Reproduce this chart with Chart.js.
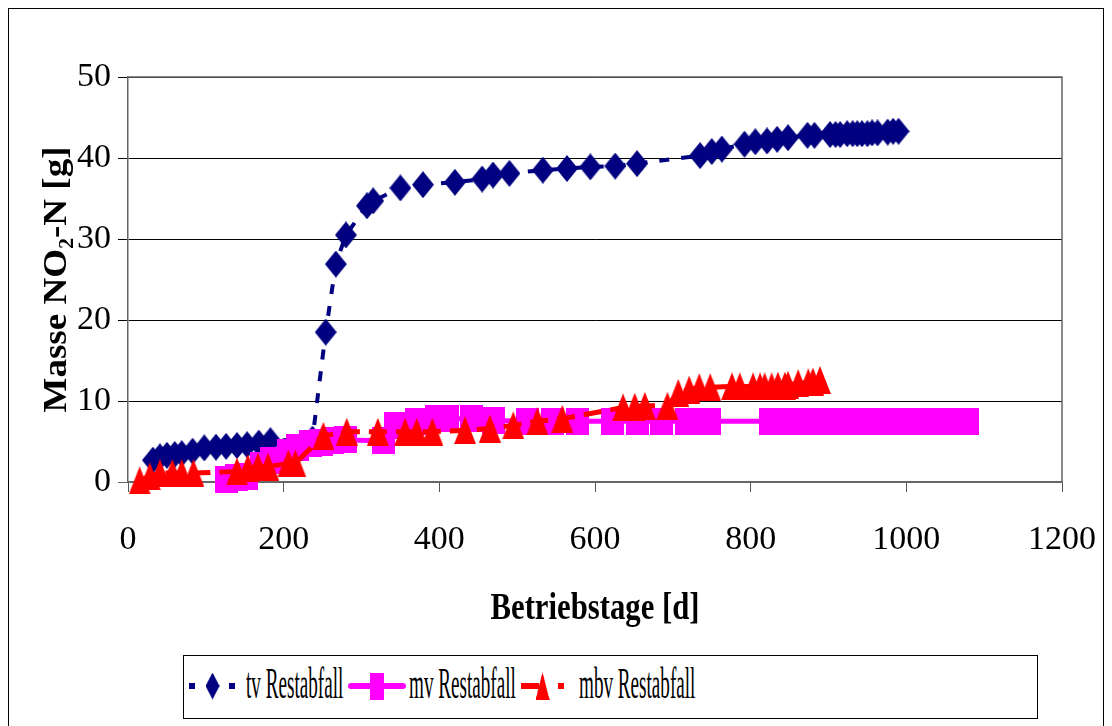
<!DOCTYPE html>
<html lang="de">
<head>
<meta charset="utf-8">
<title>Masse NO2-N</title>
<script src="https://cdn.jsdelivr.net/npm/chart.js@4.4.1/dist/chart.umd.min.js"></script>
<style>
  html, body { margin: 0; padding: 0; background: #fff; }
  body { width: 1112px; height: 726px; overflow: hidden; position: relative; font-family: 'Liberation Serif', 'Times New Roman', serif; }
  #rahmen { position: absolute; left: 8px; top: 8px; width: 1096px; height: 740px; border: 1px solid #000; box-sizing: border-box; }
  #chart { position: absolute; left: 0; top: 0; }
  #legende { position: absolute; left: 183px; top: 655px; width: 855px; height: 64px; border: 1px solid #000; box-sizing: border-box; background: #fff; }
  #legende .muster { position: absolute; top: 15px; }
  #legende .text { position: absolute; top: 6px; font-size: 44px; line-height: 44px; white-space: nowrap; color: #000; transform: scaleX(0.435); transform-origin: left top; }
</style>
</head>
<body>
<div id="rahmen"></div>
<canvas id="chart" width="1112" height="726"></canvas>
<div id="legende"></div>
<script>
/* Messwerte: kumulierte Masse NO2-N [g] über Betriebstage [d] */
const tvTage   = [32, 41, 50, 60, 69, 83, 98, 113, 126, 140, 153, 168, 183, 237, 254, 267, 280, 307, 315,
                  350, 379, 420, 455, 469, 490, 533, 564, 594, 626, 654, 735, 750, 763, 792, 806, 821, 834,
                  848, 873, 882, 902, 909, 915, 924, 931, 937, 943, 950, 956, 963, 976, 983, 990];
const tvMasse  = [2.7, 3.1, 3.3, 3.4, 3.5, 3.8, 4.2, 4.3, 4.4, 4.5, 4.6, 4.8, 5.1, 5.3, 18.5, 26.9, 30.5, 34.1, 34.7,
                  36.3, 36.7, 37.0, 37.4, 37.9, 38.1, 38.5, 38.7, 38.9, 39.0, 39.3, 40.3, 40.8, 41.1, 41.7, 42.0, 42.1, 42.3,
                  42.5, 42.8, 42.8, 42.9, 42.9, 42.9, 43.0, 43.0, 43.0, 43.0, 43.0, 43.1, 43.1, 43.2, 43.3, 43.3];

const mvTage   = [126, 139, 152, 172, 185, 206, 218, 234, 249, 263, 279, 328, 344, 371, 397, 410, 441, 470,
                  513, 545, 577, 622, 655, 685, 717, 747, 826, 855, 884, 905, 925, 945, 965, 985, 1005, 1025,
                  1045, 1062, 1078];
const mvMasse  = [0.25, 0.5, 0.7, 2.0, 2.7, 3.7, 4.3, 4.7, 4.9, 5.1, 5.2, 5.1, 7.0, 7.5, 7.8, 7.8, 7.8, 7.6,
                  7.5, 7.5, 7.5, 7.5, 7.5, 7.5, 7.5, 7.5, 7.5, 7.5, 7.5, 7.5, 7.5, 7.5, 7.5, 7.5, 7.5, 7.5,
                  7.5, 7.5, 7.5];

const mbvTage  = [15, 28, 41, 57, 69, 84, 140, 154, 167, 180, 206, 215, 251, 281, 321, 356, 371, 391, 433,
                  465, 495, 526, 558, 636, 651, 664, 693, 707, 721, 734, 748, 776, 786, 803, 812, 818, 827,
                  835, 844, 848, 861, 874, 880, 889];
const mbvMasse = [0.2, 0.7, 1.1, 1.1, 1.1, 1.1, 1.3, 1.7, 1.9, 1.9, 2.3, 2.3, 5.7, 6.2, 6.2, 6.2, 6.2, 6.2, 6.4,
                  6.6, 7.0, 7.5, 7.8, 9.2, 9.3, 9.4, 9.4, 11.0, 11.4, 11.7, 11.7, 11.8, 11.8, 11.8, 11.8, 11.8, 11.8,
                  11.9, 11.9, 12.0, 12.2, 12.3, 12.4, 12.6];

const xTicks = { min: 0, max: 1200, step: 200 };
const yTicks = { min: 0, max: 50, step: 10 };

/* ── Marker als kleine Canvas-Bilder (etwas höher als breit) ── */
function marker(form, farbe, b, h) {
  const c = document.createElement('canvas');
  c.width = b; c.height = h;
  const g = c.getContext('2d');
  g.fillStyle = farbe;
  g.beginPath();
  if (form === 'raute') {
    g.moveTo(b / 2, 0); g.lineTo(b, h / 2); g.lineTo(b / 2, h); g.lineTo(0, h / 2);
  } else if (form === 'dreieck') {
    g.moveTo(b / 2, 0); g.lineTo(b, h); g.lineTo(0, h);
  } else {
    g.rect(0, 0, b, h);
  }
  g.closePath();
  g.fill();
  return c;
}

const punkte = (tage, werte) => tage.map((t, i) => ({ x: t, y: werte[i] }));

// x/w/tx: Lage von Linienmuster und Text in der Legende
const serien = [
  { label: 'tv Restabfall',  farbe: '#000080', form: 'raute',   b: 22, h: 27, breite: 4, dash: [10, 12], legDash: [6, 34],  x: 5,   w: 47, tx: 62,  tage: tvTage,  werte: tvMasse,  order: 3 },
  { label: 'mv Restabfall',  farbe: '#FF00FF', form: 'quadrat', b: 23, h: 27, breite: 5, dash: [],       legDash: [],       x: 164, w: 58, tx: 225, tage: mvTage,  werte: mvMasse,  order: 2 },
  { label: 'mbv Restabfall', farbe: '#FF0000', form: 'dreieck', b: 22, h: 28, breite: 5, dash: [18, 9],  legDash: [18, 19], x: 337, w: 43, tx: 395, tage: mbvTage, werte: mbvMasse, order: 1 },
];
serien.forEach(s => { s.bild = marker(s.form, s.farbe, s.b, s.h); });

/* ── Grauer Rahmen um die Zeichenfläche ── */
const plotRahmen = {
  id: 'plotRahmen',
  afterDraw(chart) {
    const { ctx, chartArea: a } = chart;
    ctx.save();
    ctx.strokeStyle = '#666';
    ctx.lineWidth = 1.5;
    ctx.beginPath();
    ctx.moveTo(a.left, a.top); ctx.lineTo(a.right, a.top); ctx.lineTo(a.right, a.bottom);
    ctx.stroke();
    ctx.restore();
  }
};

// Achsentitel horizontal gestaucht zeichnen (schmale Schrift)
function gestauchterTitel(faktor, mitteX) {
  return function () {
    const ctx = this.ctx;
    const m = mitteX(this);
    ctx.save();
    ctx.translate(m, 0);
    ctx.scale(faktor, 1);
    ctx.translate(-m, 0);
    Chart.Scale.prototype.drawTitle.call(this);
    ctx.restore();
  };
}

const fontTick  = { family: "'Liberation Serif', 'Times New Roman', serif", size: 34 };
const fontTitel = { family: "'Liberation Serif', 'Times New Roman', serif", size: 37, weight: 'bold' };

const chart = new Chart(document.getElementById('chart'), {
  type: 'line',
  data: {
    datasets: serien.map(s => ({
      label: s.label,
      data: punkte(s.tage, s.werte),
      borderColor: s.farbe,
      backgroundColor: s.farbe,
      borderWidth: s.breite,
      borderDash: s.dash,
      pointStyle: s.bild,
      pointRadius: 11,
      tension: 0,
      clip: false,
      order: s.order,
    })),
  },
  options: {
    responsive: false,
    animation: false,
    layout: { padding: { left: 35, top: 77, right: 50, bottom: 94 } },
    plugins: {
      legend: { display: false },
      tooltip: { enabled: false },
    },
    scales: {
      x: {
        type: 'linear',
        min: xTicks.min, max: xTicks.max,
        ticks: { stepSize: xTicks.step, color: '#000', font: fontTick, padding: 28, maxRotation: 0, callback: v => String(v) },
        grid: { drawOnChartArea: false, drawTicks: true, tickLength: 10, color: '#555' },
        border: { color: '#666', width: 1.5 },
        title: { display: true, text: 'Betriebstage [d]', color: '#000', font: fontTitel, padding: 0 },
        afterFit: s => {
          s.height = 150;
          s.paddingLeft = 0;
          s.paddingRight = 0;
          s.drawTitle = gestauchterTitel(0.83, sc => (sc.left + sc.right) / 2);
        },
      },
      y: {
        min: yTicks.min, max: yTicks.max,
        ticks: { stepSize: yTicks.step, color: '#000', font: fontTick, padding: 7 },
        grid: { color: c => (c.tick.value === 0 ? '#666' : '#000'), lineWidth: 1, tickLength: 10 },
        border: { color: '#666', width: 1.5 },
        title: { display: true, text: 'Masse NO\u2082-N [g]', color: '#000', font: fontTitel, padding: 0 },
        afterFit: s => {
          s.width = 93;
          s.drawTitle = gestauchterTitel(0.9, sc => sc.left + 22);
        },
      },
    },
  },
  plugins: [plotRahmen],
});

/* ── Legende als HTML mit gestauchter Schrift ── */
const legende = document.getElementById('legende');
serien.forEach(s => {
  const c = document.createElement('canvas');
  c.className = 'muster';
  c.width = s.w; c.height = 30;
  c.style.left = s.x + 'px';
  const g = c.getContext('2d');
  g.strokeStyle = s.farbe;
  g.lineWidth = 6;
  g.lineCap = s.legDash.length ? 'butt' : 'round';
  g.setLineDash(s.legDash);
  g.beginPath(); g.moveTo(s.legDash.length ? 0 : 3, 15); g.lineTo(s.legDash.length ? s.w : s.w - 3, 15); g.stroke();
  // Legendenmarker schmaler, wie die Schrift
  g.drawImage(s.bild, s.w / 2 - 7, 15 - s.h / 2, 14, s.h);
  legende.appendChild(c);

  const t = document.createElement('span');
  t.className = 'text';
  t.style.left = s.tx + 'px';
  t.textContent = s.label;
  legende.appendChild(t);
});
</script>
</body>
</html>
